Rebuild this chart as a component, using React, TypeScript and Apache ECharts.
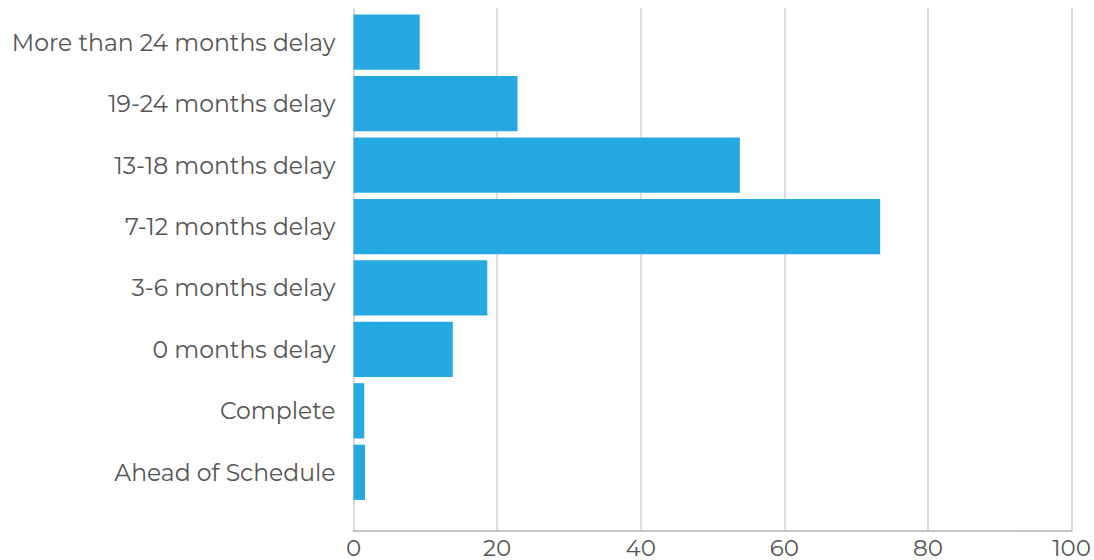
import React, { useEffect, useRef } from "react";
import * as echarts from "echarts";

const categories = [
  "Ahead of Schedule",
  "Complete",
  "0 months delay",
  "3-6 months delay",
  "7-12 months delay",
  "13-18 months delay",
  "19-24 months delay",
  "More than 24 months delay",
];
const values = [1.6, 1.5, 13.8, 18.6, 73.2, 53.7, 22.8, 9.2];
const xTicks = [0, 20, 40, 60, 80, 100];

export default function App() {
  const ref = useRef<HTMLDivElement>(null);
  useEffect(() => {
    if (!ref.current) return;
    const chart = echarts.init(ref.current, undefined, { renderer: "svg" });
    const font = "Montserrat, 'Noto Sans', sans-serif";
    chart.setOption({
      animation: false,
      backgroundColor: "#ffffff",
      grid: [
        { left: 353.5, right: 21, top: 8, height: 523, containLabel: false },
        { left: 353.5, right: 21, top: 11.5, height: 491.5, containLabel: false },
      ],
      xAxis: [
        {
          type: "value",
          gridIndex: 0,
          min: xTicks[0],
          max: xTicks[xTicks.length - 1],
          interval: 20,
          axisLine: { show: true, lineStyle: { color: "#b3b3b3", width: 1.5 } },
          axisTick: { show: false },
          splitLine: { show: true, lineStyle: { color: "#d0d0d0", width: 1.5 } },
          axisLabel: { color: "#555555", fontSize: 23, fontFamily: font, margin: 5, showMaxLabel: true },
        },
        {
          type: "value",
          gridIndex: 1,
          min: 0,
          max: 100,
          show: false,
          splitLine: { show: false },
        },
      ],
      yAxis: [
        { type: "value", gridIndex: 0, show: false, min: 0, max: 1, splitLine: { show: false } },
        {
          type: "category",
          gridIndex: 1,
          data: categories,
          axisLine: { show: false },
          axisTick: { show: false },
          axisLabel: { color: "#555555", fontSize: 23.5, fontFamily: font, margin: 18 },
        },
      ],
      series: [
        {
          type: "bar",
          xAxisIndex: 1,
          yAxisIndex: 1,
          data: values,
          barCategoryGap: "10%",
          itemStyle: { color: "#26A9E0" },
        },
      ],
    });
    return () => chart.dispose();
  }, []);
  return (
    <div
      ref={ref}
      style={{ position: "fixed", left: 0, top: 0, width: 1094, height: 560 }}
    />
  );
}
